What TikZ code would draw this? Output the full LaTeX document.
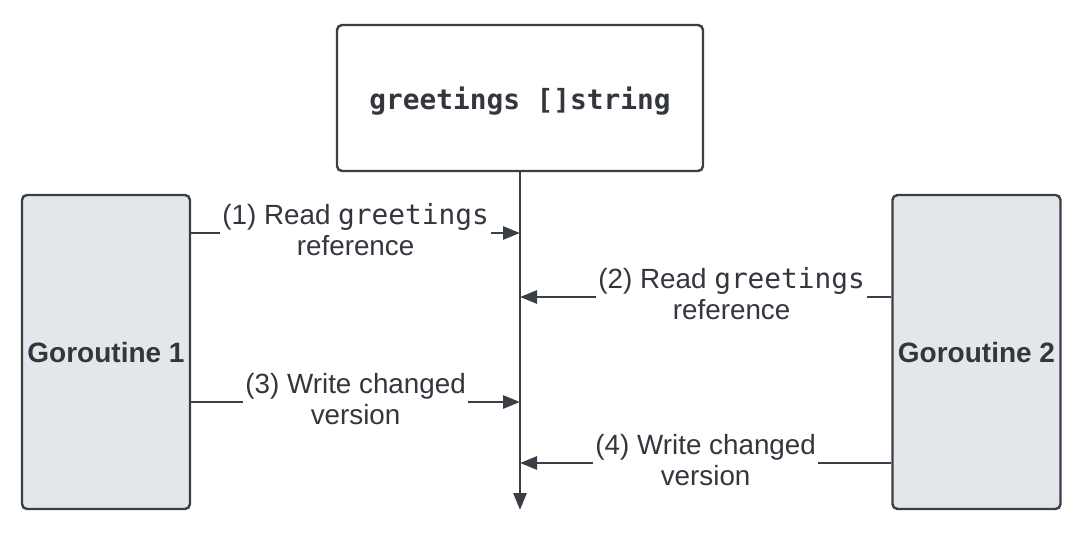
\documentclass[tikz,border=0pt]{standalone}
\usepackage{fontspec}
\setmainfont{Liberation Sans}
\setmonofont{DejaVu Sans Mono}
\usetikzlibrary{arrows.meta}
\definecolor{ink}{HTML}{3A3E45}
\definecolor{boxfill}{HTML}{E3E6EA}
\definecolor{txt}{HTML}{33373D}
\begin{document}
\begin{tikzpicture}[x=1pt,y=-1pt,
  box/.style={draw=ink, line width=2.4pt, rounded corners=5pt},
  side/.style={box, fill=boxfill, minimum width=168pt, minimum height=314pt, inner sep=0pt,
    font=\fontsize{28}{32}\selectfont\bfseries, text=txt},
  title/.style={box, fill=white, minimum width=366pt, minimum height=146pt, inner sep=0pt,
    font=\fontsize{27.8}{32}\selectfont\ttfamily\bfseries, text=txt},
  conn/.style={draw=ink, line width=2.8pt, -{Triangle[length=17pt,width=13pt]}},
  lbl/.style={fill=white, inner xsep=2pt, inner ysep=1pt, align=center, text=txt,
    yshift=3pt, font=\fontsize{27.8}{31}\selectfont}
]
\useasboundingbox (0,0) rectangle (1082,534);
\node[title] (g) at (520,98) {\raisebox{-3pt}[\height][\depth]{greetings []string}};
\node[side] (g1) at (106,352) {Goroutine 1};
\node[side] (g2) at (976.5,352) {Goroutine 2};
\coordinate (end) at (520,510);
\draw[conn] (g.south) -- (end);
\coordinate (t1) at (520,233);
\coordinate (t2) at (520,297);
\coordinate (t3) at (520,402);
\coordinate (t4) at (520,463);
\draw[conn] (g1.east |- t1) -- node[lbl]{(1) Read \texttt{greetings}\\reference} (t1);
\draw[conn] (g2.west |- t2) -- node[lbl,pos=0.43]{(2) Read \texttt{greetings}\\reference} (t2);
\draw[conn] (g1.east |- t3) -- node[lbl]{(3) Write changed\\version} (t3);
\draw[conn] (g2.west |- t4) -- node[lbl]{(4) Write changed\\version} (t4);
\end{tikzpicture}
\end{document}
